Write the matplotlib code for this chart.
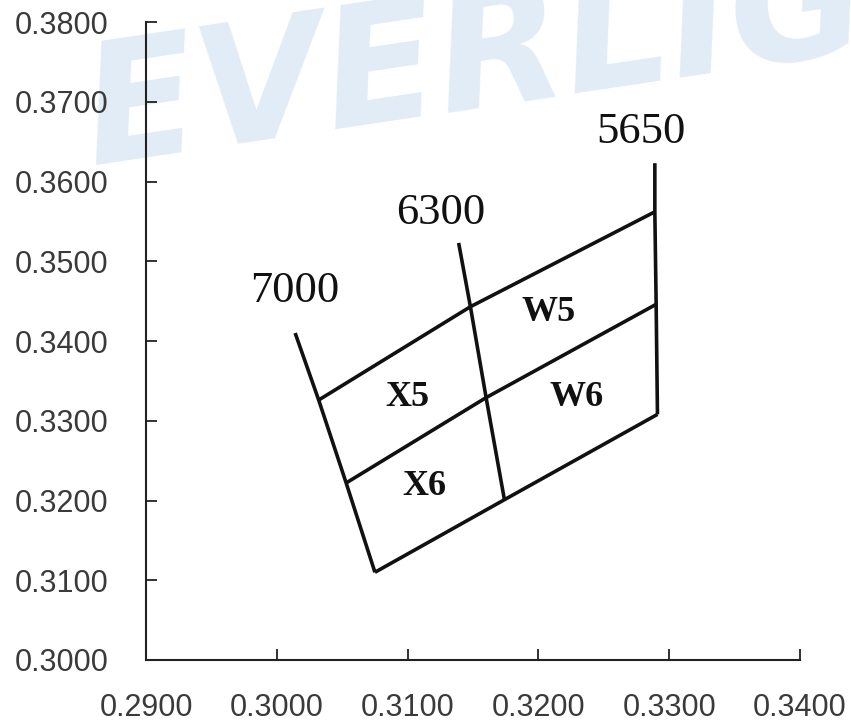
import matplotlib
matplotlib.use("Agg")
import matplotlib.pyplot as plt

# CCT isotherm lines (chromaticity x, y), listed from top end to bottom end
cct_names = ["7000", "6300", "5650"]
iso_7000_x = [0.3014, 0.3032, 0.3053, 0.3075]
iso_7000_y = [0.3410, 0.3326, 0.3222, 0.3110]
iso_6300_x = [0.3139, 0.3148, 0.3160, 0.3174]
iso_6300_y = [0.3523, 0.3443, 0.3329, 0.3201]
iso_5650_x = [0.3289, 0.3289, 0.3290, 0.3291]
iso_5650_y = [0.3623, 0.3562, 0.3446, 0.3308]

# bin boundary lines running across the isotherms (7000 -> 6300 -> 5650)
top_x = [0.3032, 0.3148, 0.3289]
top_y = [0.3326, 0.3443, 0.3562]
mid_x = [0.3053, 0.3160, 0.3290]
mid_y = [0.3222, 0.3329, 0.3446]
bot_x = [0.3075, 0.3174, 0.3291]
bot_y = [0.3110, 0.3201, 0.3308]

# bin names
bin_names = ["W5", "X5", "W6", "X6"]

x_ticks = [0.29, 0.30, 0.31, 0.32, 0.33, 0.34]
y_ticks = [0.30, 0.31, 0.32, 0.33, 0.34, 0.35, 0.36, 0.37, 0.38]

# where the text labels sit, in chart coordinates
cct_label_pos = [(0.3014, 0.3463), (0.3125, 0.3560), (0.3278, 0.3662)]
bin_label_pos = [(0.3208, 0.3436), (0.3100, 0.3329), (0.3229, 0.3329), (0.3113, 0.3217)]

fig = plt.figure(figsize=(8.51, 7.24), dpi=100)
fig.patch.set_facecolor("white")

ax = fig.add_axes([0.1716, 0.0884, 0.7685, 0.8812])
ax.set_facecolor("none")
ax.set_zorder(2)

# faint brand watermark behind the plot
fig.text(0.108, 0.772, "EVERLIGHT", transform=fig.transFigure,
         fontsize=120, fontweight="bold", fontstyle="oblique",
         family="DejaVu Sans", color="#e1ecf6", rotation=8.5,
         rotation_mode="anchor", ha="left", va="baseline", zorder=0)

lw = 2.6
for xs, ys in [(iso_7000_x, iso_7000_y), (iso_6300_x, iso_6300_y),
               (iso_5650_x, iso_5650_y), (top_x, top_y), (mid_x, mid_y),
               (bot_x, bot_y)]:
    ax.plot(xs, ys, color="#111111", lw=lw, solid_capstyle="butt",
            solid_joinstyle="miter", zorder=3)

for name, (tx, ty) in zip(cct_names, cct_label_pos):
    ax.text(tx, ty, name, fontsize=32, family="Liberation Serif",
            ha="center", va="center", color="#111111")

for name, (tx, ty) in zip(bin_names, bin_label_pos):
    ax.text(tx, ty, name, fontsize=26, family="Liberation Serif",
            fontweight="bold", ha="center", va="center", color="#111111")

ax.set_xlim(0.29, 0.34)
ax.set_ylim(0.30, 0.38)
ax.set_xticks(x_ticks)
ax.set_yticks(y_ticks)
ax.set_xticklabels([f"{v:.4f}" for v in x_ticks])
ax.set_yticklabels([f"{v:.4f}" for v in y_ticks])

for side in ["top", "right"]:
    ax.spines[side].set_visible(False)
for side in ["left", "bottom"]:
    ax.spines[side].set_linewidth(1.5)
    ax.spines[side].set_color("#222222")

ax.tick_params(axis="both", direction="in", length=8, width=1.3,
               colors="#222222", labelsize=22, labelcolor="#3a3a3a")
ax.tick_params(axis="y", pad=27)
ax.tick_params(axis="x", pad=24)
for lab in ax.get_xticklabels() + ax.get_yticklabels():
    lab.set_family("Liberation Sans")

fig.savefig("out.png", dpi=100, facecolor="white")
